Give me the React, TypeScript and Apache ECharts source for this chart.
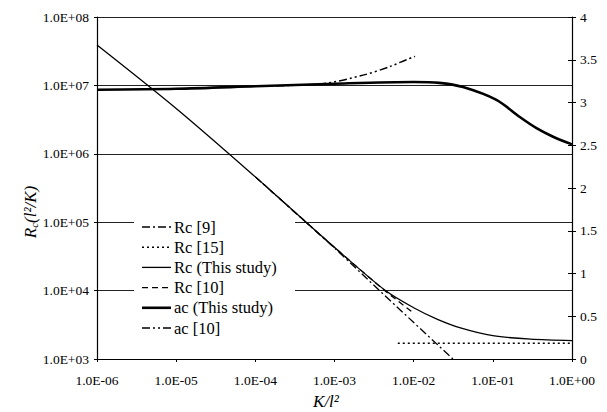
import React, { useEffect, useRef } from "react";
import * as echarts from "echarts";

// K/l^2 and Rc (l^2/K), this study
const rcThisK = [1e-6, 1e-5, 1e-4, 1e-3, 4.4e-3, 1e-2, 2e-2, 4e-2, 0.1, 0.3, 1];
const rcThisVal = [3.9e7, 4.6e6, 4.6e5, 4.3e4, 1.0e4, 5620, 3800, 2820, 2190, 1950, 1860];

// Rc [9]
const rc9K = [1e-4, 1e-3, 3.7e-3, 3.13e-2];
const rc9Val = [4.6e5, 4.2e4, 1.0e4, 1000];

// Rc [15]
const rc15K = [6.3e-3, 1];
const rc15Val = [1700, 1700];

// Rc [10]
const rc10K = [1e-4, 1e-3, 4.3e-3, 9.5e-3];
const rc10Val = [4.6e5, 4.25e4, 1.0e4, 4900];

// ac (This study) - right axis
const acThisK = [1e-6, 1e-5, 1e-4, 1e-3, 1e-2, 2.1e-2, 4.2e-2, 0.111, 0.219, 0.356, 0.577, 1];
const acThisVal = [3.15, 3.16, 3.19, 3.22, 3.24, 3.23, 3.18, 3.03, 2.83, 2.7, 2.6, 2.51];

// ac [10] - right axis
const ac10K = [1e-4, 7e-4, 2.3e-3, 5e-3, 8.1e-3, 1.04e-2];
const ac10Val = [3.19, 3.22, 3.32, 3.42, 3.5, 3.54];

const seriesNames = ["Rc [9]", "Rc [15]", "Rc (This study)", "Rc [10]", "ac (This study)", "ac [10]"];

const zip = (xs: number[], ys: number[]) => xs.map((x, i) => [x, ys[i]]);

const sciLabel = (v: number) => {
  const e = Math.round(Math.log10(v));
  return "1.0E" + (e < 0 ? "-" : "+") + String(Math.abs(e)).padStart(2, "0");
};

const FONT = "'Liberation Serif', 'Times New Roman', serif";

const styles: Record<string, { dash: number[] | null; width: number }> = {
  "Rc [9]": { dash: [8, 3, 2, 3], width: 1.3 },
  "Rc [15]": { dash: [2, 3], width: 1.6 },
  "Rc (This study)": { dash: null, width: 1.3 },
  "Rc [10]": { dash: [6, 4], width: 1.3 },
  "ac (This study)": { dash: null, width: 2.6 },
  "ac [10]": { dash: [8, 3, 2, 3, 2, 3], width: 1.5 },
};

export default function App() {
  const ref = useRef<HTMLDivElement>(null);
  useEffect(() => {
    if (!ref.current) return;
    const chart = echarts.init(ref.current, undefined, { renderer: "svg" });
    const axisLabel = { color: "#000", fontFamily: FONT, fontSize: 13.5 };
    const mkLine = (name: string) => ({
      color: "#000",
      width: styles[name].width,
      type: styles[name].dash ? styles[name].dash : "solid",
    });

    const legendGraphics: any[] = [
      {
        type: "rect",
        z: 1,
        shape: { x: 134, y: 214, width: 161, height: 126 },
        style: { fill: "#fff", stroke: null },
      },
    ];
    seriesNames.forEach((name, i) => {
      const y = 227 + i * 20.2;
      legendGraphics.push({
        type: "line",
        z: 5,
        shape: { x1: 142, y1: y, x2: 171, y2: y },
        style: {
          stroke: "#000",
          lineWidth: styles[name].width,
          lineDash: styles[name].dash || undefined,
        },
      });
      legendGraphics.push({
        type: "text",
        z: 5,
        x: 174,
        y: y,
        style: {
          text: name,
          fontFamily: FONT,
          fontSize: 16.5,
          fill: "#000",
          align: "left",
          verticalAlign: "middle",
        },
      });
    });

    chart.setOption({
      animation: false,
      backgroundColor: "#fff",
      grid: { left: 97, right: 35, top: 17, bottom: 53 },
      xAxis: {
        type: "log",
        logBase: 10,
        min: 1e-6,
        max: 1,
        axisLine: { show: true, onZero: false, lineStyle: { color: "#000", width: 1.2 } },
        axisTick: { show: true, length: 3, lineStyle: { color: "#000" } },
        minorTick: { show: false },
        splitLine: { show: false },
        axisLabel: { ...axisLabel, margin: 14, formatter: sciLabel },
      },
      yAxis: [
        {
          type: "log",
          logBase: 10,
          min: 1e3,
          max: 1e8,
          position: "left",
          axisLine: { show: true, lineStyle: { color: "#000", width: 1.2 } },
          axisTick: { show: true, length: 3, lineStyle: { color: "#000" } },
          splitLine: { show: true, lineStyle: { color: "#222", width: 1 } },
          axisLabel: { ...axisLabel, margin: 8, formatter: sciLabel },
        },
        {
          type: "value",
          min: 0,
          max: 4,
          interval: 0.5,
          position: "right",
          axisLine: { show: true, lineStyle: { color: "#000", width: 1.2 } },
          axisTick: { show: true, length: 4, lineStyle: { color: "#000" } },
          splitLine: { show: false },
          axisLabel: { ...axisLabel, margin: 8 },
        },
        {
          type: "value",
          min: 0,
          max: 4,
          interval: 0.5,
          position: "right",
          axisLine: { show: false },
          axisTick: { show: true, inside: true, length: 4, lineStyle: { color: "#000" } },
          splitLine: { show: false },
          axisLabel: { show: false },
        },
      ],
      graphic: [
        {
          type: "text",
          x: 30,
          y: 212,
          rotation: Math.PI / 2,
          style: {
            text: "{a|R}{b|c}{a|(l²/K)}",
            align: "center",
            verticalAlign: "middle",
            rich: {
              a: { fontFamily: FONT, fontStyle: "italic", fontSize: 17, fill: "#000", lineHeight: 20 },
              b: { fontFamily: FONT, fontStyle: "italic", fontSize: 11, fill: "#000", lineHeight: 20, padding: [8, 0, 0, 0] },
            },
          },
        },
        {
          type: "text",
          x: 326,
          y: 401,
          style: {
            text: "K/l²",
            align: "center",
            verticalAlign: "middle",
            fontFamily: FONT,
            fontStyle: "italic",
            fontSize: 17,
            fill: "#000",
          },
        },
        ...legendGraphics,
      ],
      series: [
        { name: "Rc [9]", type: "line", z: 3, symbol: "none", yAxisIndex: 0, data: zip(rc9K, rc9Val), lineStyle: mkLine("Rc [9]") },
        { name: "Rc [15]", type: "line", z: 3, symbol: "none", yAxisIndex: 0, data: zip(rc15K, rc15Val), lineStyle: mkLine("Rc [15]") },
        {
          name: "Rc (This study)",
          type: "line",
          z: 3,
          symbol: "none",
          smooth: 0.3,
          yAxisIndex: 0,
          data: zip(rcThisK, rcThisVal),
          lineStyle: mkLine("Rc (This study)"),
        },
        { name: "Rc [10]", type: "line", z: 3, symbol: "none", yAxisIndex: 0, data: zip(rc10K, rc10Val), lineStyle: mkLine("Rc [10]") },
        {
          name: "ac (This study)",
          type: "line",
          z: 3,
          symbol: "none",
          smooth: 0.3,
          yAxisIndex: 1,
          data: zip(acThisK, acThisVal),
          lineStyle: mkLine("ac (This study)"),
        },
        {
          name: "ac [10]",
          type: "line",
          z: 3,
          symbol: "none",
          smooth: 0.3,
          yAxisIndex: 1,
          data: zip(ac10K, ac10Val),
          lineStyle: mkLine("ac [10]"),
        },
      ],
    });
    return () => chart.dispose();
  }, []);
  return <div ref={ref} style={{ position: "absolute", left: 0, top: 0, width: 607, height: 412 }} />;
}
